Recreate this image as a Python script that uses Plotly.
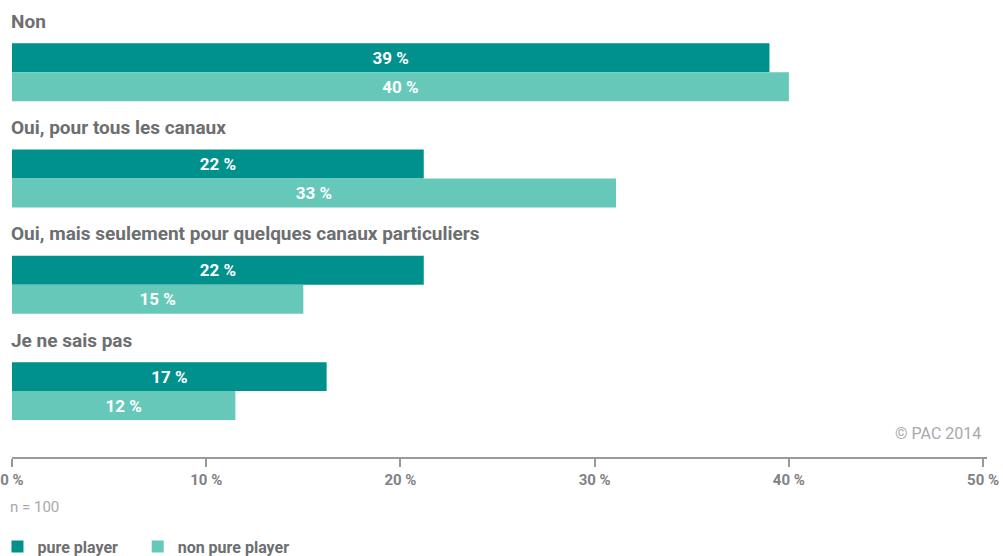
import plotly.graph_objects as go

categories = ["Non", "Oui, pour tous les canaux",
              "Oui, mais seulement pour quelques canaux particuliers", "Je ne sais pas"]
pure_player = [39.0, 21.2, 21.2, 16.2]
non_pure_player = [40.0, 31.1, 15.0, 11.5]
pure_labels = ["39 %", "22 %", "22 %", "17 %"]
non_pure_labels = ["40 %", "33 %", "15 %", "12 %"]
tick_vals = [0, 10, 20, 30, 40, 50]
tick_text = ["0 %", "10 %", "20 %", "30 %", "40 %", "50 %"]

DARK = "#00918c"
LIGHT = "#66c8b9"
GREY = "#6d6e70"
FONT = "Roboto, Liberation Sans Narrow, sans-serif"

fig = go.Figure()
fig.add_trace(go.Bar(
    y=categories, x=pure_player, orientation="h", name="pure player",
    marker=dict(color=DARK, line=dict(width=0)), legend="legend",
    text=pure_labels, textposition="inside", insidetextanchor="middle",
    textfont=dict(color="white", size=17, family=FONT, weight="bold"),
    constraintext="none", hoverinfo="skip"))
fig.add_trace(go.Bar(
    y=categories, x=non_pure_player, orientation="h", name="non pure player",
    marker=dict(color=LIGHT, line=dict(width=0)), legend="legend2",
    text=non_pure_labels, textposition="inside", insidetextanchor="middle",
    textfont=dict(color="white", size=17, family=FONT, weight="bold"),
    constraintext="none", hoverinfo="skip"))

annotations = []
for c in categories:
    annotations.append(dict(
        x=0, xref="paper", y=c, yref="y", yshift=51, xanchor="left", yanchor="middle",
        text=c, showarrow=False, xshift=-3,
        font=dict(size=19, color=GREY, family=FONT, weight="bold")))
annotations.append(dict(
    x=1, xref="paper", y=0, yref="paper", yshift=24, xanchor="right", yanchor="middle",
    xshift=-4, text="© PAC 2014", showarrow=False,
    font=dict(size=16, color="#a7a9ac", family=FONT)))
annotations.append(dict(
    x=0, xref="paper", y=0, yref="paper", yshift=-50, xanchor="left", yanchor="middle",
    xshift=-4, text="n = 100", showarrow=False,
    font=dict(size=15, color="#a7a9ac", family=FONT)))

legend_style = dict(orientation="h", xanchor="left", y=-0.196, yanchor="middle",
                    xref="paper", yref="paper", bgcolor="rgba(0,0,0,0)",
                    font=dict(size=16, color=GREY, family=FONT, weight="bold"),
                    itemclick=False, itemdoubleclick=False)

fig.update_layout(
    width=1003, height=556,
    margin=dict(l=12, r=16, t=0, b=98.5, autoexpand=False),
    paper_bgcolor="white", plot_bgcolor="white",
    barmode="group", bargap=0.455, bargroupgap=0,
    showlegend=True,
    legend=dict(x=-0.0149, **legend_style),
    legend2=dict(x=0.1289, **legend_style),
    xaxis=dict(range=[0, 50.2], tickvals=tick_vals, ticktext=tick_text,
               showgrid=False, zeroline=False, showline=True, linecolor="#999999",
               linewidth=2, ticks="outside", ticklen=8, tickwidth=1.5, tickcolor="#999999",
               tickfont=dict(size=15, color="#808285", family=FONT, weight="bold"),
               automargin=False, ticklabeloverflow="allow", fixedrange=True),
    yaxis=dict(range=[3.62, -0.68], autorange=False, showticklabels=False,
               showgrid=False, zeroline=False, showline=False, fixedrange=True,
               automargin=False,
               categoryorder="array", categoryarray=categories),
    annotations=annotations,
)

fig.write_html("out.html", config={"displayModeBar": False},
               post_script="document.body.style.margin='0px';")
